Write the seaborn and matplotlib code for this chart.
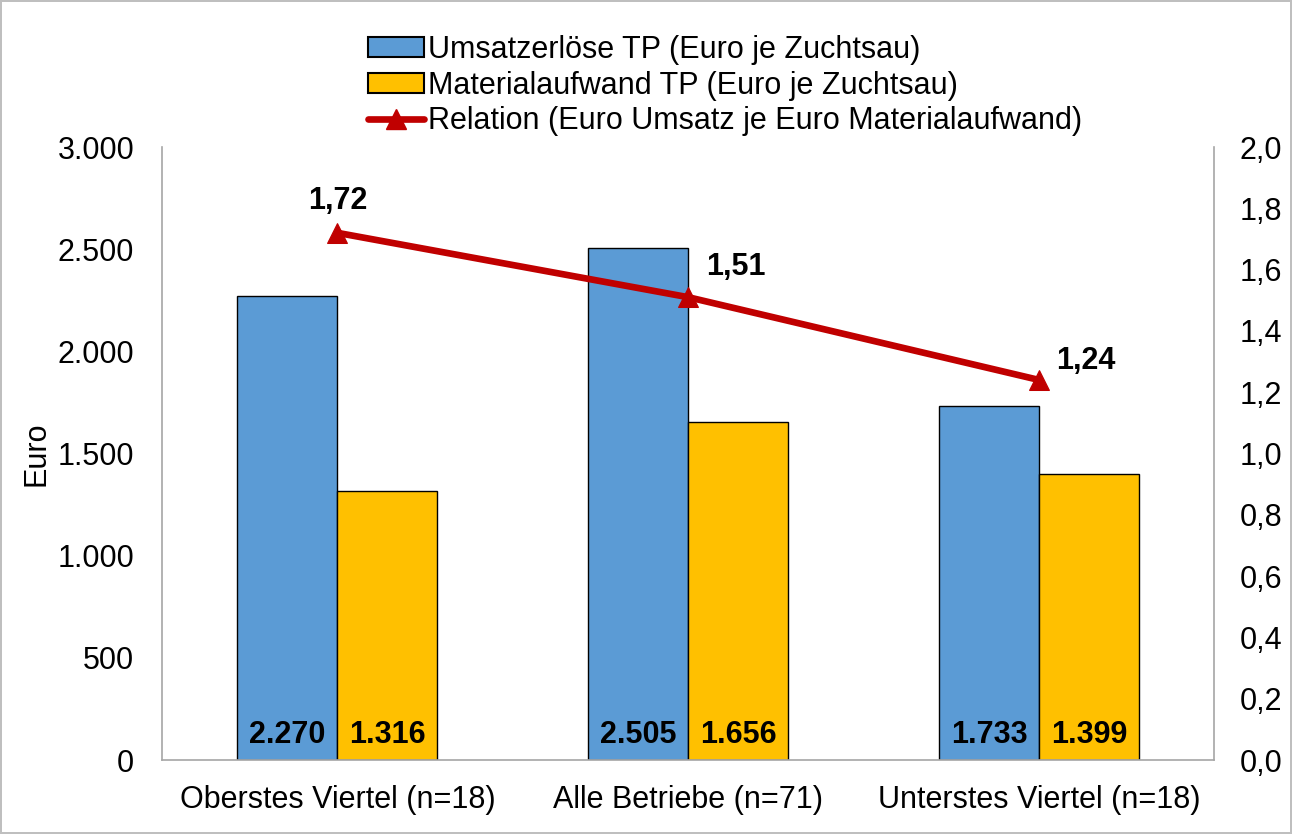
import pandas as pd
import seaborn as sns
import matplotlib.pyplot as plt
from matplotlib.patches import Patch
from matplotlib.lines import Line2D
from matplotlib.ticker import FuncFormatter, MultipleLocator

# Daten
kategorien = ["Oberstes Viertel (n=18)", "Alle Betriebe (n=71)", "Unterstes Viertel (n=18)"]
umsatz = [2270, 2505, 1733]
material = [1316, 1656, 1399]
relation = [1.72, 1.51, 1.24]

serie_umsatz = "Umsatzerlöse TP (Euro je Zuchtsau)"
serie_material = "Materialaufwand TP (Euro je Zuchtsau)"
serie_relation = "Relation (Euro Umsatz je Euro Materialaufwand)"

BLAU = "#5B9BD5"
GELB = "#FFC000"
ROT = "#C00000"
GRAU = "#A6A6A6"

df = pd.DataFrame({
    "Kategorie": kategorien * 2,
    "Serie": [serie_umsatz] * 3 + [serie_material] * 3,
    "Wert": umsatz + material,
})

sns.set_style("white")
plt.rcParams["font.family"] = ["Liberation Sans", "DejaVu Sans"]
for k in ("text.color", "axes.labelcolor", "xtick.color", "ytick.color"):
    plt.rcParams[k] = "black"
FS = 22

fig = plt.figure(figsize=(12.92, 8.34), dpi=100, linewidth=1.5, edgecolor="#BFBFBF")
ax = fig.add_axes([0.1254, 0.0887, 0.8146, 0.735])

sns.barplot(data=df, x="Kategorie", y="Wert", hue="Serie", order=kategorien,
            hue_order=[serie_umsatz, serie_material], palette=[BLAU, GELB],
            saturation=1, width=0.57, gap=0, edgecolor="black", linewidth=1.0,
            legend=False, ax=ax)

# Werte unten in den Balken
for cont in ax.containers:
    for bar in cont:
        v = bar.get_height()
        ax.annotate(f"{v:,.0f}".replace(",", "."),
                    xy=(bar.get_x() + bar.get_width() / 2, 0),
                    xytext=(0, 12), textcoords="offset points",
                    ha="center", va="baseline", fontsize=FS, fontweight="bold")

ax.set_ylim(0, 3000)
ax.set_xlim(-0.5, 2.5)
ax.yaxis.set_major_locator(MultipleLocator(500))
ax.yaxis.set_major_formatter(FuncFormatter(lambda v, p: f"{v:,.0f}".replace(",", ".")))
ax.set_xlabel("")
ax.set_ylabel("Euro", fontsize=FS, labelpad=4)
ax.tick_params(axis="y", labelsize=FS, length=0, pad=20)
ax.tick_params(axis="x", labelsize=FS, length=0, pad=18)

# Relation auf zweiter Achse
ax2 = ax.twinx()
sns.lineplot(x=[0, 1, 2], y=relation, ax=ax2, color=ROT, linewidth=4.8,
             marker="^", markersize=14, markeredgecolor=ROT)
ax2.set_ylim(0, 2.0)
ax2.set_xlim(-0.5, 2.5)
ax2.yaxis.set_major_locator(MultipleLocator(0.2))
ax2.yaxis.set_major_formatter(FuncFormatter(lambda v, p: f"{v:.1f}".replace(".", ",")))
ax2.tick_params(axis="y", labelsize=FS, length=0, pad=18)

offsets = [(0, 12), (34, 11), (34, 3)]
for i, (r, off) in enumerate(zip(relation, offsets)):
    ax2.annotate(f"{r:.2f}".replace(".", ","), xy=(i, r), xytext=off,
                 textcoords="offset points", ha="center", va="bottom",
                 fontsize=FS, fontweight="bold")

for a in (ax, ax2):
    a.spines["top"].set_visible(False)
    for s in ("left", "right", "bottom"):
        a.spines[s].set_color(GRAU)
        a.spines[s].set_linewidth(1.2)
ax.spines["right"].set_visible(False)
ax2.spines["left"].set_visible(False)
ax2.spines["bottom"].set_visible(False)

handles = [
    Patch(facecolor=BLAU, edgecolor="black", linewidth=1.5),
    Patch(facecolor=GELB, edgecolor="black", linewidth=1.5),
    Line2D([0], [0], color=ROT, linewidth=4.8, marker="^", markersize=14),
]
fig.legend(handles, [serie_umsatz, serie_material, serie_relation],
           loc="upper left", bbox_to_anchor=(0.268, 0.984), frameon=False,
           fontsize=FS, handlelength=1.86, handleheight=0.65, handletextpad=0.1,
           labelspacing=0.19, borderpad=0.2)

fig.savefig("out.png", dpi=100, edgecolor=fig.get_edgecolor())
